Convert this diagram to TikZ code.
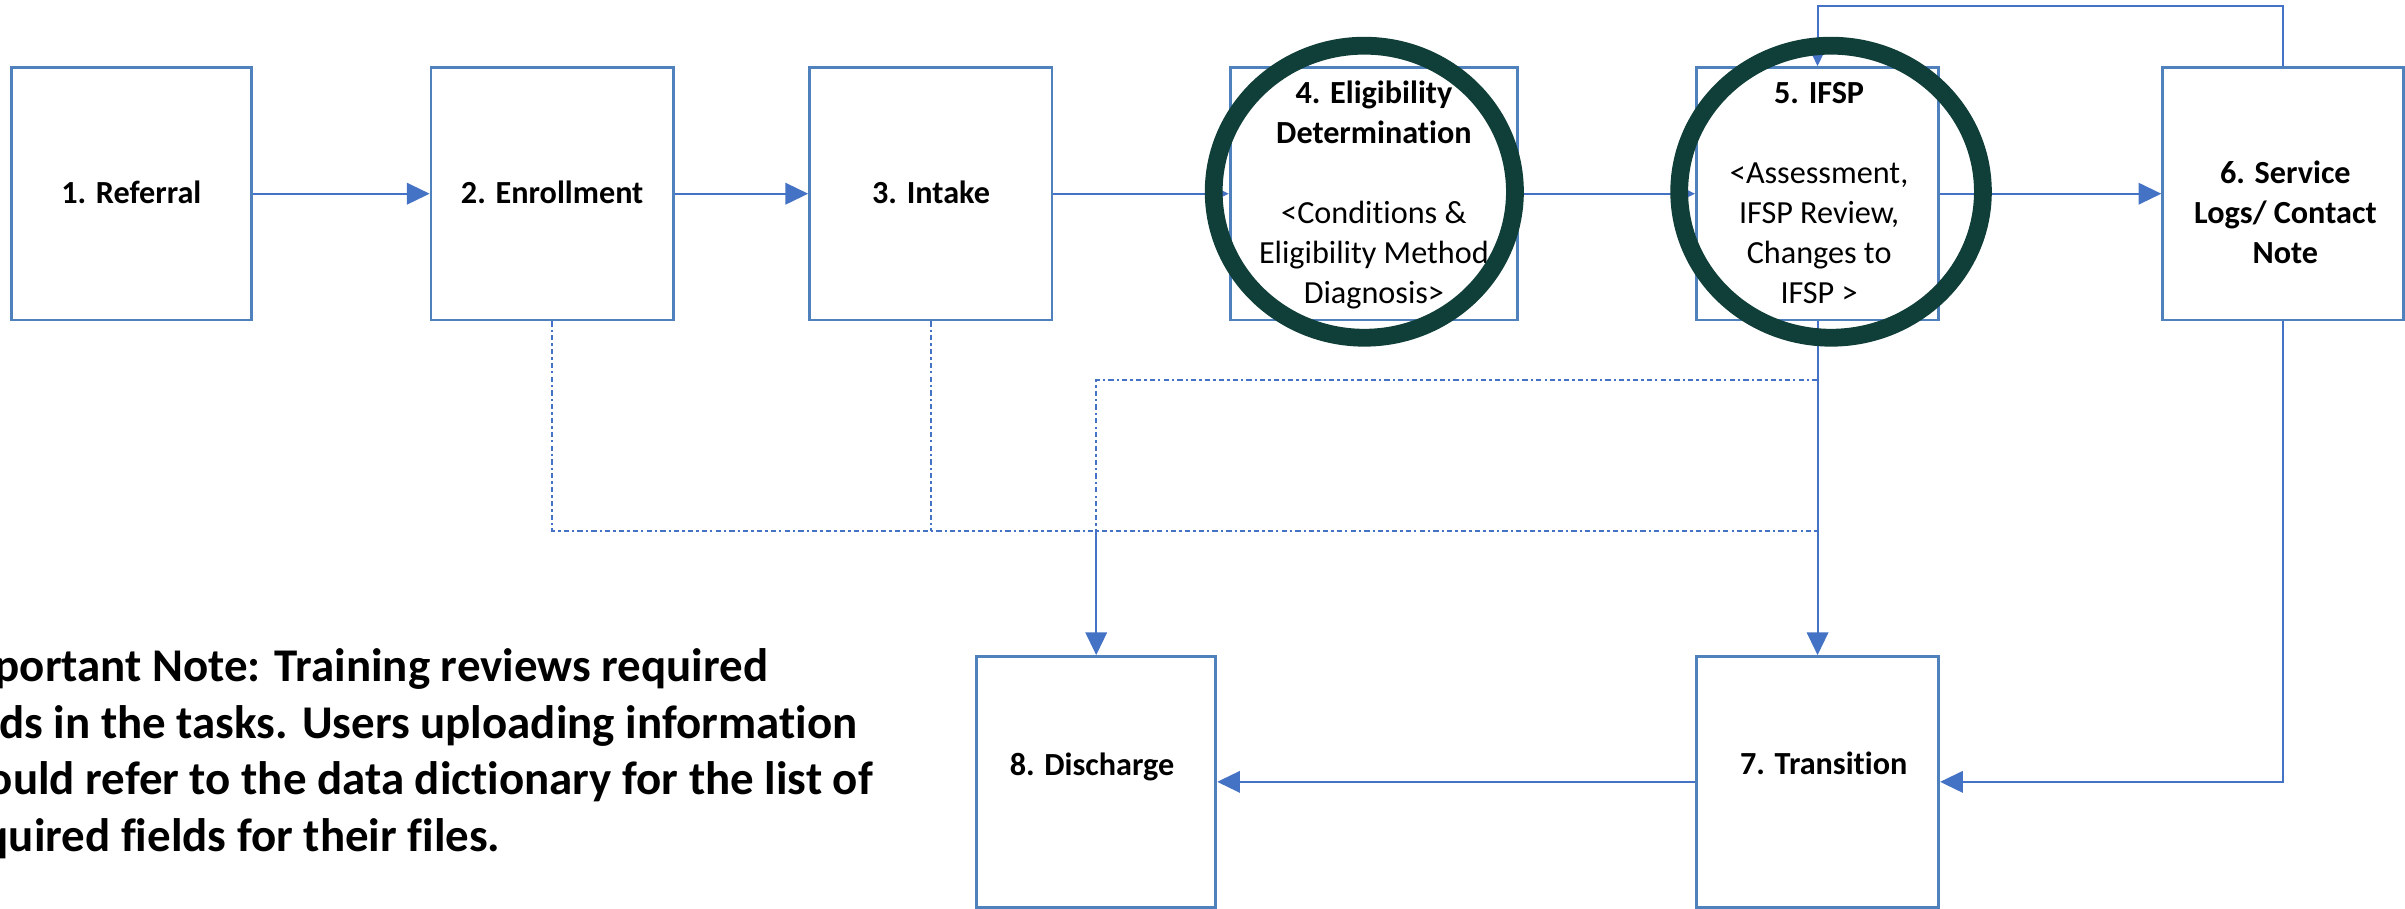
\documentclass[tikz,border=0pt]{standalone}
\usepackage{fontspec}
\setmainfont{Carlito}[Ligatures=NoCommon]
\usetikzlibrary{arrows.meta,shapes.geometric}
\definecolor{boxblue}{HTML}{4F81BD}
\definecolor{lineblue}{HTML}{4472C4}
\definecolor{ringgreen}{HTML}{103E38}
\begin{document}
\begin{tikzpicture}[x=0.5pt,y=-0.5pt,
  box/.style={draw=boxblue,line width=0.9pt,fill=white,inner sep=0pt,minimum width=79pt,minimum height=82.3pt},
  conn/.style={draw=lineblue,line width=0.65pt,-{Triangle[length=7.4pt,width=7pt]}},
  dotline/.style={draw=lineblue,line width=0.6pt,dash pattern=on 1.7pt off 1pt on 0.8pt off 1pt},
  lbl/.style={inner sep=0pt,anchor=base,font=\fontsize{10.5}{13}\selectfont},
  blbl/.style={inner sep=0pt,anchor=base,font=\fontsize{10.5}{13}\selectfont\bfseries},
  note/.style={inner sep=0pt,anchor=base west,font=\fontsize{15.3}{18.5}\selectfont\bfseries},
  ring/.style={draw=ringgreen,line width=5.8pt,ellipse,inner sep=0pt}
]
\useasboundingbox (0,0) rectangle (1568,592.6);
\clip (0,0) rectangle (1568,592.6);

% boxes
\node[box,minimum width=78.4pt] (b1) at (85.65,126.3) {};
\node[box] (b2) at (360,126.3) {};
\node[box] (b3) at (606.8,126.3) {};
\node[box,minimum width=93.75pt] (b4) at (895.75,126.3) {};
\node[box] (b5) at (1185,126.3) {};
\node[box,minimum width=78.5pt] (b6) at (1488.5,126.3) {};
\node[box,minimum height=81.75pt] (b7) at (1185,509.75) {};
\node[box,minimum width=78pt,minimum height=81.75pt] (b8) at (714.7,509.75) {};

% helper coordinates
\coordinate (top) at (1300,4);
\coordinate (j1) at (1185,346);
\coordinate (j2) at (1185,248);

% connectors
\draw[conn] (b1.east) -- (b2.west);
\draw[conn] (b2.east) -- (b3.west);
\draw[conn] (b3.east) -- (b4.west);
\draw[conn] (b4.east) -- (b5.west);
\draw[conn] (b5.east) -- (b6.west);
\draw[conn] (b6.north) -- (b6.north |- top) -- (b5.north |- top) -- (b5.north);
\draw[conn] (b5.south) -- (b7.north);
\draw[conn] (b6.south) |- (b7.east);
\draw[conn] (b7.west) -- (b8.east);
\draw[dotline] (b2.south) |- (j1);
\draw[dotline] (b3.south) -- (b3.south |- j1);
\draw[dotline] (j2) -| (b8.north |- j1);
\draw[conn] (b8.north |- j1) -- (b8.north);

% box texts
\node[blbl] (t1) at (85.65,132.9) {1. Referral};
\node[blbl] (t2) at (360,132.9) {2. Enrollment};
\node[blbl] (t3) at (607,132.9) {3. Intake};
\node[blbl] (t4a) at (895.75,67.5) {4. Eligibility};
\node[blbl] (t4b) at (895.75,93.5) {Determination};
\node[lbl] (t4c) at (895.75,145.6) {<Conditions \&};
\node[lbl] (t4d) at (895.75,171.7) {Eligibility Method};
\node[lbl] (t4e) at (895.75,197.8) {Diagnosis>};
\node[blbl] (t5a) at (1186,67.5) {5. IFSP};
\node[lbl] (t5b) at (1186,119.5) {<Assessment,};
\node[lbl] (t5c) at (1186,145.6) {IFSP Review,};
\node[lbl] (t5d) at (1186,171.7) {Changes to};
\node[lbl] (t5e) at (1186,197.8) {IFSP >};
\node[blbl] (t6a) at (1490,119.5) {6. Service};
\node[blbl] (t6b) at (1490,145.6) {Logs/ Contact};
\node[blbl] (t6c) at (1490,171.7) {Note};
\node[blbl] (t7) at (1189,505.2) {7. Transition};
\node[blbl] (t8) at (712,505.4) {8. Discharge};

% note (its left end is cut by the picture edge, as in the original)
\node[note] (n1) at (-37,444.4) {Important Note: Training reviews required};
\node[note] (n2) at (-41,481.3) {fields in the tasks. Users uploading information};
\node[note] (n3) at (-37,518.3) {should refer to the data dictionary for the list of};
\node[note] (n4) at (-37,555.2) {required fields for their files.};

% highlight rings
\node[ring,minimum width=98.2pt,minimum height=95.2pt] (r4) at (889.5,125) {};
\node[ring,minimum width=99pt,minimum height=95.2pt] (r5) at (1193.8,125) {};
\end{tikzpicture}
\end{document}
